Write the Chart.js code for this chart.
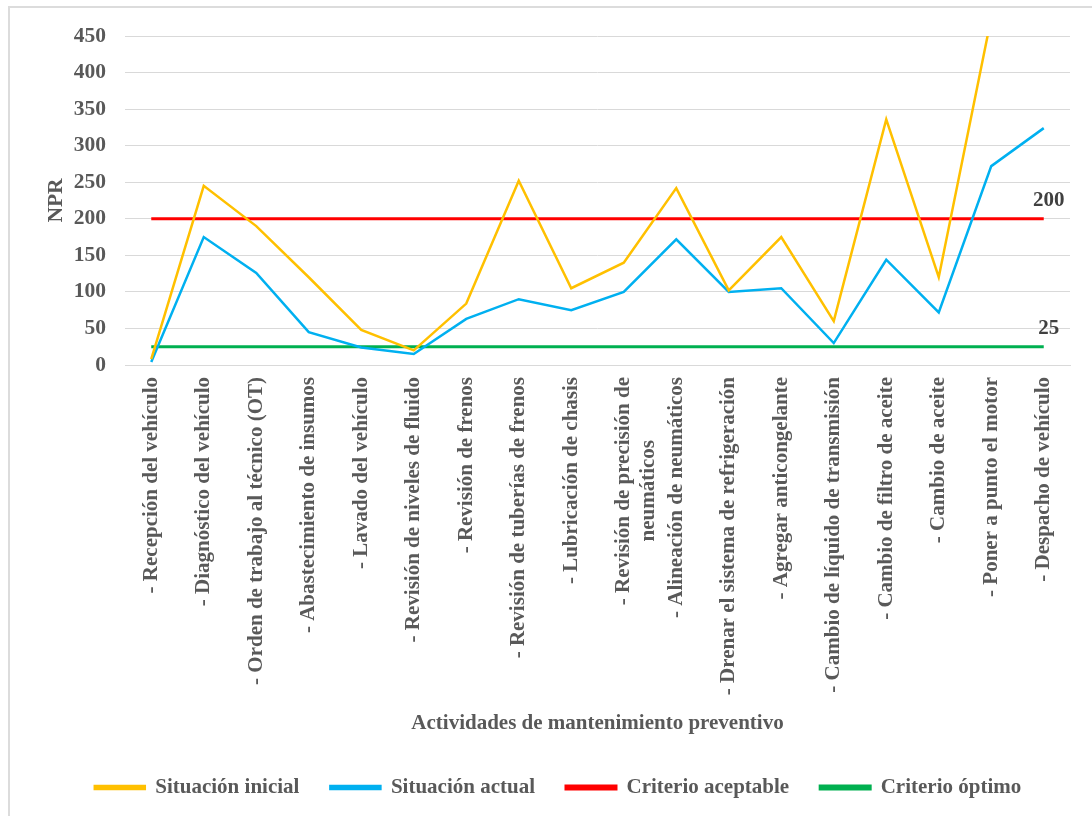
<!DOCTYPE html>
<html>
<head>
<meta charset="utf-8">
<script src="https://cdn.jsdelivr.net/npm/chart.js@4"></script>
<style>
  html, body { margin: 0; padding: 0; background: #fff; }
  #frame { position: absolute; left: 8px; top: 6px; width: 1100px; height: 820px;
           border-left: 2px solid #dcdcdc; border-top: 2px solid #dcdcdc; }
  #wrap { position: absolute; left: 0; top: 0; width: 1092px; height: 816px; }
</style>
</head>
<body>
<div id="frame"></div>
<div id="wrap"><canvas id="npr"></canvas></div>
<script>
var actividades = [
    '- Recepción del vehículo',
    '- Diagnóstico del vehículo',
    '- Orden de trabajo al técnico (OT)',
    '- Abastecimiento de insumos',
    '- Lavado del vehículo',
    '- Revisión de niveles de fluido',
    '- Revisión de frenos',
    '- Revisión de tuberías de frenos',
    '- Lubricación de chasis',
    // segunda linea centrada con espacios al final
    ['- Revisión de precisión de', 'neumáticos            '],
    '- Alineación de neumáticos',
    '- Drenar el sistema de refrigeración',
    '- Agregar anticongelante',
    '- Cambio de líquido de transmisión',
    '- Cambio de filtro de aceite',
    '- Cambio de aceite',
    '- Poner a punto el motor',
    '- Despacho de vehículo'
];
var situacionInicial = [8, 245, 190, 120, 48, 20, 84, 252, 105, 140, 242, 102, 175, 60, 336, 120, 475, 480];
var situacionActual  = [4, 175, 126, 45, 24, 15, 63, 90, 75, 100, 172, 100, 105, 30, 144, 72, 272, 324];
var criterioAceptable = 200;
var criterioOptimo = 25;
var ticksY = [0, 50, 100, 150, 200, 250, 300, 350, 400, 450];

var serif = 'Liberation Serif, Times New Roman, serif';
var gris = '#595959';

// etiqueta del valor sobre el ultimo punto de las lineas de criterio
var etiquetaCriterio = {
    id: 'etiquetaCriterio',
    afterDatasetsDraw: function (chart) {
        var ctx = chart.ctx;
        var x = chart.scales.x, y = chart.scales.y;
        ctx.save();
        ctx.font = 'bold 21px ' + serif;
        ctx.fillStyle = '#404040';
        ctx.textAlign = 'center';
        ctx.textBaseline = 'middle';
        [2, 3].forEach(function (i) {
            var ds = chart.data.datasets[i];
            var last = ds.data.length - 1;
            var v = ds.data[last];
            ctx.fillText(String(v), x.getPixelForValue(last) + 5, y.getPixelForValue(v) - 18);
        });
        ctx.restore();
    }
};

var ctx = document.getElementById('npr').getContext('2d');
var chart = new Chart(ctx, {
    type: 'line',
    data: {
        labels: actividades,
        datasets: [{
            label: 'Situación inicial',
            data: situacionInicial,
            borderColor: '#FFC000',
            backgroundColor: '#FFC000',
            borderWidth: 2.5
        }, {
            label: 'Situación actual',
            data: situacionActual,
            borderColor: '#00B0F0',
            backgroundColor: '#00B0F0',
            borderWidth: 2.5
        }, {
            label: 'Criterio aceptable',
            data: actividades.map(function () { return criterioAceptable; }),
            borderColor: '#FF0000',
            backgroundColor: '#FF0000',
            borderWidth: 3
        }, {
            label: 'Criterio óptimo',
            data: actividades.map(function () { return criterioOptimo; }),
            borderColor: '#00B050',
            backgroundColor: '#00B050',
            borderWidth: 3
        }]
    },
    options: {
        responsive: true,
        maintainAspectRatio: false,
        animation: false,
        elements: { point: { radius: 0, hoverRadius: 0 }, line: { tension: 0 } },
        layout: { padding: { top: 36, right: 22, bottom: 8, left: 46 } },
        scales: {
            x: {
                offset: true,
                grid: { display: false, drawTicks: false },
                border: { color: '#d9d9d9', width: 1 },
                ticks: {
                    autoSkip: false,
                    maxRotation: 90,
                    minRotation: 90,
                    padding: 12,
                    color: gris,
                    font: { family: serif, size: 21, weight: 'bold' }
                },
                title: {
                    display: true,
                    text: 'Actividades de mantenimiento preventivo',
                    color: gris,
                    font: { family: serif, size: 21, weight: 'bold' },
                    padding: { top: 0, bottom: 10 }
                },
                afterFit: function (scale) { scale.height = 381; }
            },
            y: {
                min: 0,
                max: 450,
                afterBuildTicks: function (scale) {
                    scale.ticks = ticksY.map(function (v) { return { value: v }; });
                },
                grid: { color: '#d9d9d9', lineWidth: 1, drawTicks: false },
                border: { display: false },
                ticks: {
                    padding: 19,
                    color: gris,
                    font: { family: serif, size: 21.5, weight: 'bold' }
                },
                title: {
                    display: true,
                    text: 'NPR',
                    color: gris,
                    font: { family: serif, size: 21.5, weight: 'bold' },
                    padding: { top: -2, bottom: 0 }
                },
                afterFit: function (scale) { scale.width = 79; }
            }
        },
        plugins: {
            tooltip: { enabled: false },
            legend: {
                position: 'bottom',
                labels: {
                    boxWidth: 50,
                    boxHeight: 3,
                    padding: 31,
                    color: gris,
                    font: { family: serif, size: 21, weight: 'bold' }
                }
            }
        }
    },
    plugins: [etiquetaCriterio]
});
</script>
</body>
</html>
